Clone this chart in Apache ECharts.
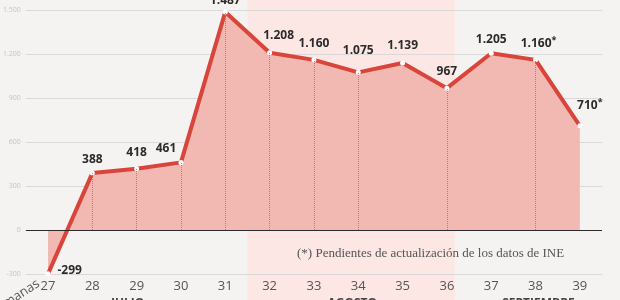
<!DOCTYPE html>
<html><head><meta charset="utf-8">
<script src="https://cdn.jsdelivr.net/npm/echarts@6/dist/echarts.min.js"></script>
<style>html,body{margin:0;padding:0;background:#f5f3f1}#c{width:620px;height:300px}</style>
</head><body><div id="c"></div>
<script>
var weeks = ['27','28','29','30','31','32','33','34','35','36','37','38','39'];
var values = [-299, 388, 418, 461, 1487, 1208, 1160, 1075, 1139, 967, 1205, 1160, 710];
var pending = [false,false,false,false,false,false,false,false,false,false,false,true,true];
var yTicks = [-300, 0, 300, 600, 900, 1200, 1500];
var months = ['JULIO', 'AGOSTO', 'SEPTIEMBRE'];
var monthAnchorWeek = ['29', '34', '38'];
var dropLineWeeks = ['28','29','30','31','32','33','34','36','38'];
var note = '(*) Pendientes de actualización de los datos de INE';

function fmt(v){
  var s = Math.abs(v).toString();
  var out = s.length > 3 ? s.slice(0, s.length-3) + '.' + s.slice(s.length-3) : s;
  return (v < 0 ? '-' : '') + out;
}

// label placement (style only)
var labelStyle = [
  {position:'right', offset:[2,-3]},
  {position:'top', distance:5},
  {position:'top', distance:8},
  {position:'top', distance:5, offset:[-15,0]},
  {position:'top', distance:3},
  {position:'top', distance:9, offset:[9,0]},
  {position:'top', distance:8},
  {position:'top', distance:13},
  {position:'top', distance:9},
  {position:'top', distance:8},
  {position:'top', distance:5},
  {position:'top', distance:6, offset:[3,0]},
  {position:'top', distance:10, offset:[10,0]}
];

var chart = echarts.init(document.getElementById('c'), null, {renderer:'canvas'});
var lineData = values.map(function(v, i){
  var ls = labelStyle[i];
  return {value: v, label: Object.assign({show:true}, ls)};
});
var dropLines = dropLineWeeks.map(function(w){
  var v = values[weeks.indexOf(w)];
  return [{xAxis: w, yAxis: 0}, {xAxis: w, yAxis: v}];
});

chart.setOption({
  backgroundColor: '#f5f3f1',
  animation: false,
  grid: {left: 25, right: 18, top: 10, bottom: 26},
  xAxis: {
    type: 'category', data: weeks, boundaryGap: true,
    axisLine: {show:false}, axisTick: {show:false},
    axisLabel: {color:'#555', fontSize:13, fontFamily:'Open Sans', margin:6}
  },
  yAxis: {
    type: 'value', min: -300, max: 1500, interval: 300,
    axisLine: {show:false}, axisTick: {show:false},
    axisLabel: {color:'#c4c4c4', fontSize:7, fontFamily:'Open Sans', margin:5, formatter: function(v){return fmt(v);}},
    splitLine: {lineStyle: {color:'#d9d9d9', width:1}}
  },
  series: [{
    type: 'line',
    data: lineData,
    z: 3,
    symbol: 'circle', symbolSize: 5,
    showAllSymbol: true,
    itemStyle: {color:'#ffffff', borderWidth:0},
    lineStyle: {color:'#d9443b', width:4},
    areaStyle: {color:'#f2b9b2', opacity:1, origin: 0},
    label: {
      show: true, color:'#2b2b2b', fontFamily:'Open Sans', fontWeight:'bold', fontSize:12,
      formatter: function(p){ return fmt(p.value) + (pending[p.dataIndex] ? '{s|*}' : ''); },
      rich: {s: {fontSize:9, color:'#2b2b2b', verticalAlign:'top', padding:[0,0,6,0], fontFamily:'Open Sans'}}
    },
    markLine: {
      silent: true, symbol: ['none','none'], label:{show:false},
      lineStyle: {color:'#e0655b', type:'dotted', width:1, opacity:0.9},
      data: dropLines
    }
  }, {
    type: 'line', data: [], silent: true,
    markLine: {
      silent: true, symbol:['none','none'], label:{show:false},
      lineStyle: {color:'#2b2b2b', type:'solid', width:1},
      data: [{yAxis: 0}]
    }
  }]
});

function px(w){ return chart.convertToPixel({xAxisIndex:0}, w); }
var bw = px('33') - px('32');
var bandX0 = px('32') - bw/2;
var bandX1 = px('36') + bw*0.18;
var graphics = [
  {type:'rect', z:-10, shape:{x:bandX0, y:0, width:bandX1-bandX0, height:300}, style:{fill:'#fce7e5'}},
  {type:'text', z:10, left:297, top:247, style:{text: note, fill:'#555', font:'13px "Liberation Serif", serif'}},
  {type:'text', z:10, x:42, y:288, rotation: Math.PI*33/180, style:{text:'Semanas', fill:'#555', font:'13px "Open Sans"', align:'right', verticalAlign:'bottom'}}
];
var monthOffsets = [-9, -6, 3];
months.forEach(function(m, i){
  graphics.push({type:'text', z:10, x: px(monthAnchorWeek[i]) + monthOffsets[i], y:297.5,
    style:{text:m, fill:'#444', font:'bold 12px "Open Sans"', align:'center', verticalAlign:'top'}});
});
chart.setOption({graphic: graphics});
</script>
</body></html>
